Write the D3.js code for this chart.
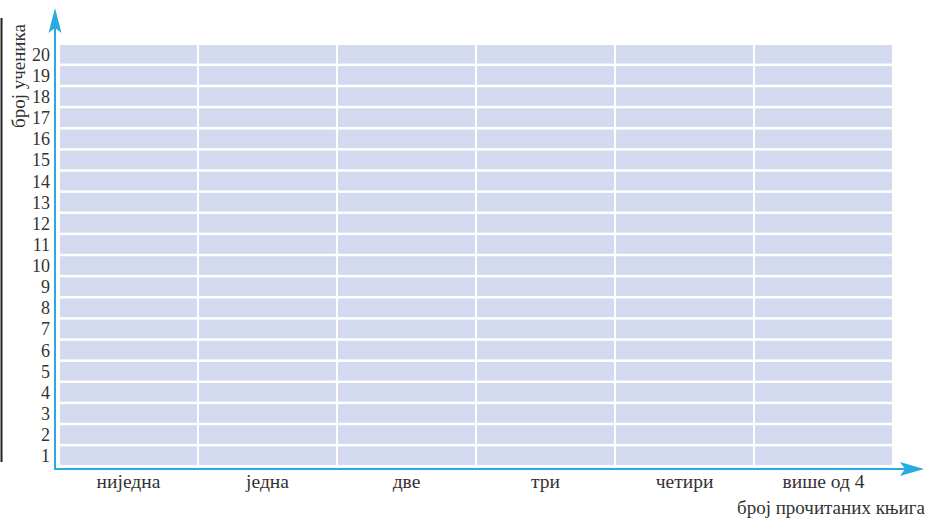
<!DOCTYPE html>
<html>
<head>
<meta charset="utf-8">
<script src="https://cdn.jsdelivr.net/npm/d3@7"></script>
<style>
  body { margin: 0; background: #fff; }
  svg text { font-family: "Liberation Serif", "DejaVu Serif", serif; fill: #333; }
</style>
</head>
<body>
<svg class="chart" width="926" height="519"></svg>
<script>
// DATA
const categories = ['ниједна', 'једна', 'две', 'три', 'четири', 'више од 4'];
const counts = d3.range(1, 21); // 1..20 on the y axis
const yTitle = 'број ученика';
const xTitle = 'број прочитаних књига';

const blue = '#29abe2';
const cellColor = '#d3d9ee';

const svg = d3.select('svg.chart');

const x = d3.scaleBand()
  .domain(categories)
  .range([60, 892])
  .paddingInner(0.015)
  .paddingOuter(0);

const y = d3.scaleBand()
  .domain(counts)
  .range([465, 45])
  .paddingInner(0.12)
  .paddingOuter(0);

// grid of empty cells
const cells = [];
categories.forEach(c => counts.forEach(n => cells.push({c, n})));

svg.append('g')
  .selectAll('rect')
  .data(cells)
  .join('rect')
  .attr('x', d => x(d.c))
  .attr('y', d => y(d.n))
  .attr('width', x.bandwidth())
  .attr('height', y.bandwidth())
  .attr('fill', cellColor);

// page-edge rule on the far left
svg.append('line')
  .attr('x1', 1.5).attr('x2', 1.5)
  .attr('y1', 18).attr('y2', 462)
  .attr('stroke', '#222')
  .attr('stroke-width', 2);

// axes with arrows
const x0 = 55, yBase = 469;

svg.append('line')
  .attr('x1', x0).attr('x2', x0)
  .attr('y1', yBase + 1).attr('y2', 28)
  .attr('stroke', blue).attr('stroke-width', 2);

svg.append('line')
  .attr('x1', x0 - 1).attr('x2', 905)
  .attr('y1', yBase).attr('y2', yBase)
  .attr('stroke', blue).attr('stroke-width', 2);

// arrow heads
svg.append('path')
  .attr('d', `M${x0},8 L${x0 + 6.5},33 L${x0},28 L${x0 - 6.5},33 Z`)
  .attr('fill', blue);

svg.append('path')
  .attr('d', `M924,${yBase} L900,${yBase - 7} L905,${yBase} L900,${yBase + 7} Z`)
  .attr('fill', blue);

// y tick labels
const yAxis = svg.append('g')
  .attr('transform', `translate(${x0},0)`)
  .call(d3.axisLeft(y).tickSize(0).tickPadding(5));
yAxis.select('.domain').remove();
yAxis.selectAll('text')
  .style('font-family', '"Liberation Serif", serif')
  .style('font-size', '18px')
  .attr('fill', '#333')
  .attr('dy', '0.36em');

// x tick labels
const xAxis = svg.append('g')
  .attr('transform', `translate(0,${yBase})`)
  .call(d3.axisBottom(x).tickSize(0));
xAxis.select('.domain').remove();
xAxis.selectAll('text')
  .style('font-family', '"Liberation Serif", serif')
  .style('font-size', '19.5px')
  .attr('fill', '#333')
  .attr('y', 19)
  .attr('dy', 0);

// axis titles
svg.append('text')
  .attr('transform', 'translate(25,128) rotate(-90)')
  .attr('text-anchor', 'start')
  .style('font-size', '19px')
  .text(yTitle);

svg.append('text')
  .attr('x', 925)
  .attr('y', 514)
  .attr('text-anchor', 'end')
  .style('font-size', '19px')
  .text(xTitle);
</script>
</body>
</html>
